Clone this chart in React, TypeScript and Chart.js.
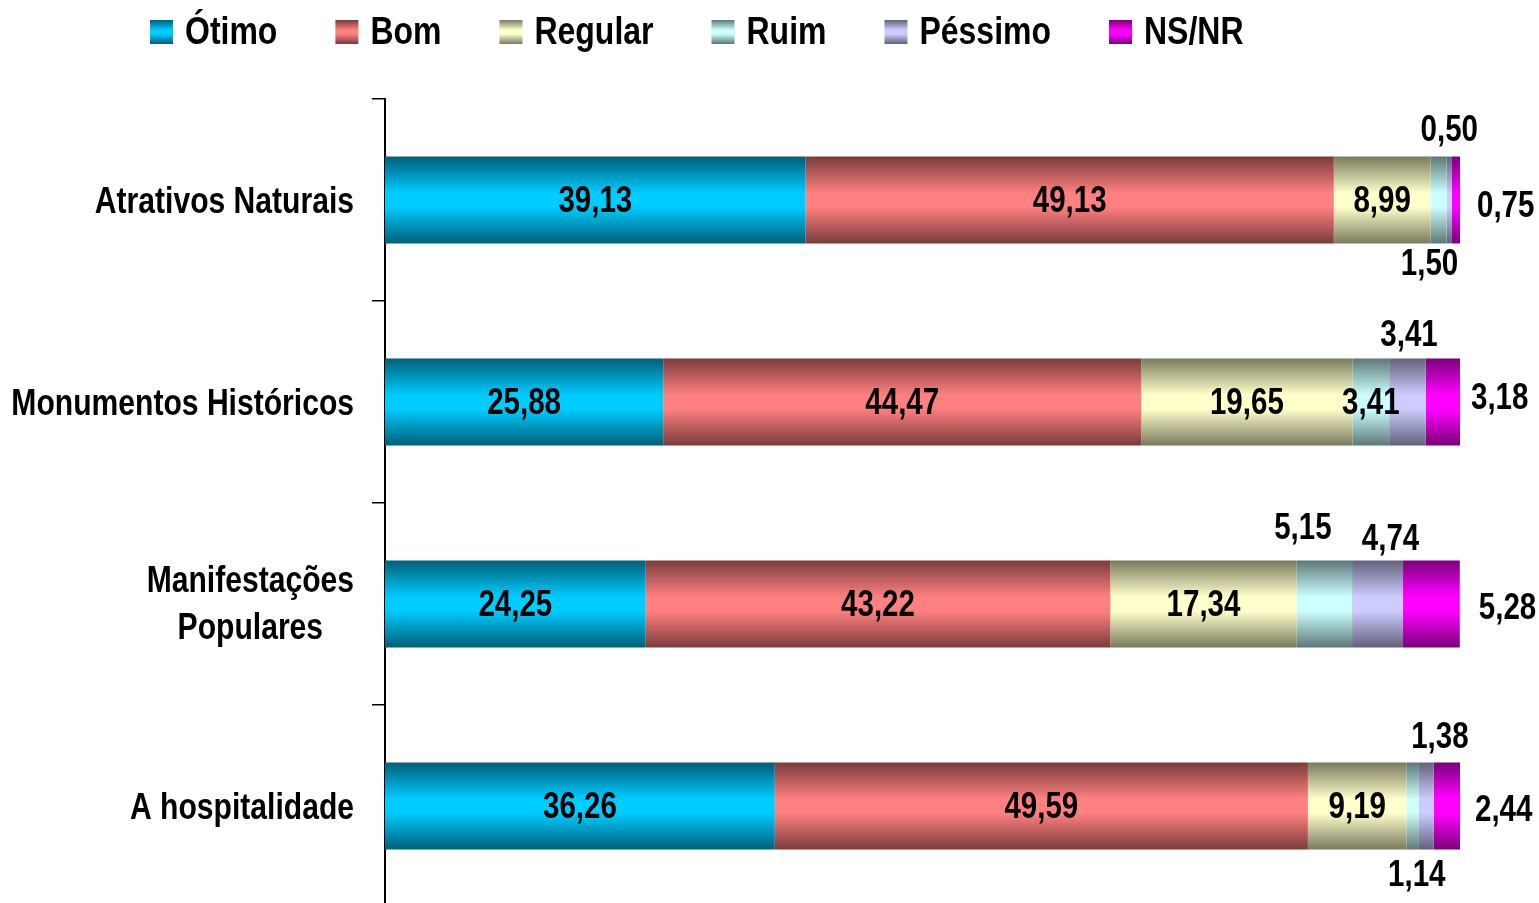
import { useEffect, useRef } from "react";
import { Chart, registerables } from "chart.js";

Chart.register(...registerables);

const categories: string[][] = [
  ["Atrativos Naturais"],
  ["Monumentos Históricos"],
  ["Manifestações", "Populares"],
  ["A hospitalidade"],
];
const seriesNames = ["Ótimo", "Bom", "Regular", "Ruim", "Péssimo", "NS/NR"];
const otimo = [39.13, 25.88, 24.25, 36.26];
const bom = [49.13, 44.47, 43.22, 49.59];
const regular = [8.99, 19.65, 17.34, 9.19];
const ruim = [1.5, 3.41, 5.15, 1.14];
const pessimo = [0.5, 3.41, 4.74, 1.38];
const nsnr = [0.75, 3.18, 5.28, 2.44];
const xMin = 0;
const xMax = 100;

const seriesValues = [otimo, bom, regular, ruim, pessimo, nsnr];
const brightColors = ["#00CCFF", "#FF8080", "#FFFFCC", "#CCFFFF", "#CCCCFF", "#FF00FF"];
const darkColors = ["#005F78", "#7A3C3C", "#7A7A5E", "#5E7878", "#62627C", "#7A007A"];

const FONT = '"Liberation Sans", Arial, sans-serif';
const NARROW = 0.82;

// label placement (style only): pos + fine offsets
type Place = { pos: "center" | "above" | "below" | "right"; dx: number; dy: number };
const placements: Record<string, Place> = {
  "3-0": { pos: "below", dx: -9, dy: -2 },
  "4-0": { pos: "above", dx: 0, dy: -1.5 },
  "5-0": { pos: "right", dx: 2, dy: 6.7 },
  "4-1": { pos: "above", dx: 1.5, dy: 1.4 },
  "5-1": { pos: "right", dx: -4, dy: -3.3 },
  "3-2": { pos: "above", dx: -21.5, dy: -7.7 },
  "4-2": { pos: "above", dx: 13, dy: 3.7 },
  "5-2": { pos: "right", dx: 4, dy: 5 },
  "3-3": { pos: "below", dx: 4, dy: 2.7 },
  "4-3": { pos: "above", dx: 13.5, dy: -0.5 },
  "5-3": { pos: "right", dx: 0, dy: 5 },
};

function makeGradient(ctx: CanvasRenderingContext2D, top: number, bottom: number, i: number) {
  const g = ctx.createLinearGradient(0, top, 0, bottom);
  g.addColorStop(0, darkColors[i]);
  g.addColorStop(0.42, brightColors[i]);
  g.addColorStop(0.58, brightColors[i]);
  g.addColorStop(1, darkColors[i]);
  return g;
}

const fmt = (v: number) => v.toFixed(2).replace(".", ",");

// draw horizontally condensed text (emulates a narrow bold face)
function narrowText(ctx: CanvasRenderingContext2D, txt: string, x: number, y: number, align: CanvasTextAlign) {
  ctx.save();
  ctx.translate(x, y);
  ctx.scale(NARROW, 1);
  ctx.textAlign = align;
  ctx.fillText(txt, 0, 0);
  ctx.restore();
}
const narrowWidth = (ctx: CanvasRenderingContext2D, txt: string) => ctx.measureText(txt).width * NARROW;

const labelsPlugin = {
  id: "segLabels",
  afterDatasetsDraw(chart: any) {
    const ctx: CanvasRenderingContext2D = chart.ctx;
    ctx.save();
    ctx.font = `bold 36px ${FONT}`;
    ctx.fillStyle = "#000";
    ctx.textBaseline = "middle";
    chart.data.datasets.forEach((ds: any, di: number) => {
      const meta = chart.getDatasetMeta(di);
      meta.data.forEach((el: any, j: number) => {
        const p = el.getProps(["x", "y", "base", "height"], true);
        const txt = fmt(ds.data[j]);
        const place = placements[`${di}-${j}`] || { pos: "center", dx: 0, dy: 0 };
        const cx = (p.x + p.base) / 2;
        const top = p.y - p.height / 2;
        const bottom = p.y + p.height / 2;
        let x = cx, y = p.y + 2;
        let align: CanvasTextAlign = "center";
        if (place.pos === "above") { y = top - 24; }
        else if (place.pos === "below") { y = bottom + 24; }
        else if (place.pos === "right") { align = "left"; x = p.x + 15; y = p.y; }
        narrowText(ctx, txt, x + place.dx, y + place.dy, align);
      });
    });
    ctx.restore();
  },
};

const catLabelsPlugin = {
  id: "catLabels",
  afterDraw(chart: any) {
    const ctx: CanvasRenderingContext2D = chart.ctx;
    const ys = chart.scales.y;
    ctx.save();
    ctx.font = `bold 36.7px ${FONT}`;
    ctx.fillStyle = "#000";
    ctx.textBaseline = "middle";
    const rightEdge = chart.chartArea.left - 31;
    const lineH = 47;
    categories.forEach((lines, i) => {
      const cy = ys.getPixelForValue(i);
      const w = Math.max(...lines.map((l) => narrowWidth(ctx, l)));
      const cx = rightEdge - w / 2;
      const y0 = cy - ((lines.length - 1) * lineH) / 2;
      lines.forEach((l, k) => narrowText(ctx, l, cx, y0 + k * lineH + (lines.length > 1 ? 1 : 3), "center"));
    });
    ctx.restore();
  },
};

const legendPlugin = {
  id: "customLegend",
  afterDraw(chart: any) {
    const ctx: CanvasRenderingContext2D = chart.ctx;
    ctx.save();
    ctx.font = `bold 39px ${FONT}`;
    ctx.textBaseline = "middle";
    let x = 150;
    const boxTop = 20, boxH = 24, boxW = 23;
    seriesNames.forEach((name, i) => {
      ctx.fillStyle = makeGradient(ctx, boxTop, boxTop + boxH, i);
      ctx.fillRect(x, boxTop, boxW, boxH);
      ctx.fillStyle = "#000";
      const tx = x + boxW + 12;
      narrowText(ctx, name, tx, 33, "left");
      x = tx + narrowWidth(ctx, name) + 58;
    });
    ctx.restore();
  },
};

export default function App() {
  const ref = useRef<HTMLCanvasElement | null>(null);
  useEffect(() => {
    if (!ref.current) return;
    const chart = new Chart(ref.current, {
      type: "bar",
      data: {
        labels: categories.map((c) => c.join(" ")),
        datasets: seriesNames.map((name, i) => ({
          label: name,
          data: seriesValues[i],
          borderWidth: 0,
          barPercentage: 0.43,
          categoryPercentage: 1,
          backgroundColor: (c: any) => {
            const ch = c.chart;
            if (!ch.chartArea || c.dataIndex === undefined) return brightColors[i];
            const ys = ch.scales.y;
            const cy = ys.getPixelForValue(c.dataIndex);
            const half = ((ys.height / categories.length) * 0.43) / 2;
            return makeGradient(ch.ctx, cy - half, cy + half, i);
          },
        })),
      },
      options: {
        indexAxis: "y",
        animation: false,
        responsive: false,
        maintainAspectRatio: false,
        layout: { padding: { top: 99, right: 79, bottom: 13, left: 0 } },
        plugins: {
          legend: { display: false },
          tooltip: { enabled: false },
        },
        scales: {
          x: { stacked: true, min: xMin, max: xMax, display: false },
          y: {
            stacked: true,
            offset: true,
            afterFit: (s: any) => { s.width = 385; },
            ticks: { display: false },
            grid: {
              offset: true,
              drawOnChartArea: false,
              drawTicks: true,
              tickLength: 13,
              color: "#000",
              lineWidth: 1.5,
            },
            border: { display: true, color: "#000", width: 2 },
          },
        },
      } as any,
      plugins: [labelsPlugin, catLabelsPlugin, legendPlugin],
    });
    return () => chart.destroy();
  }, []);
  return (
    <div style={{ position: "fixed", left: 0, top: 0, width: 1539, height: 903, overflow: "hidden", background: "#fff" }}>
      <canvas ref={ref} width={1539} height={920} style={{ width: 1539, height: 920, display: "block" }} />
    </div>
  );
}
